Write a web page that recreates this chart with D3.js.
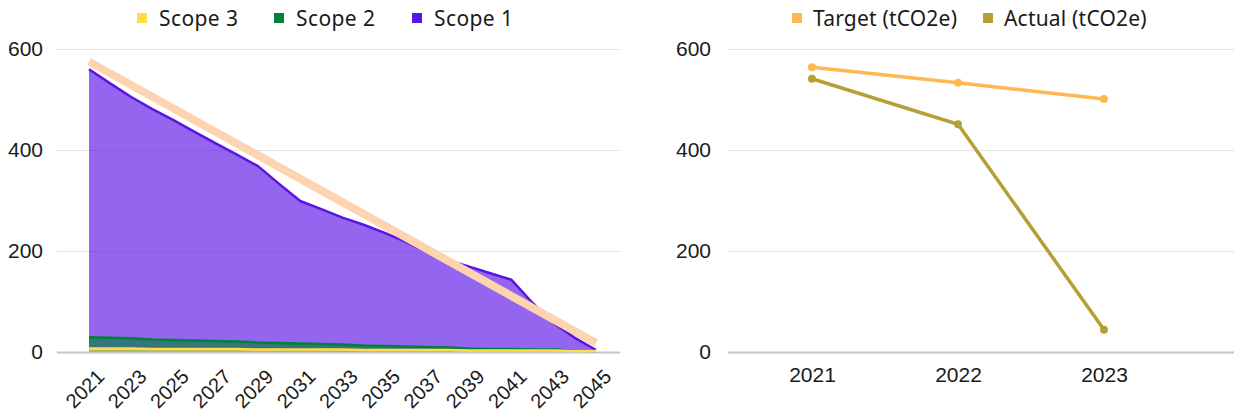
<!DOCTYPE html>
<html>
<head>
<meta charset="utf-8">
<script src="https://cdn.jsdelivr.net/npm/d3@7"></script>
<style>
  html, body { margin: 0; padding: 0; background: #fff; }
  svg { display: block; font-family: "Noto Sans", sans-serif; }
  .tick text { fill: #1a1a1a; }
</style>
</head>
<body>
<div id="chart-container"></div>
<script>
// left chart: emissions by scope (tCO2e)
const years = [2021, 2022, 2023, 2024, 2025, 2026, 2027, 2028, 2029, 2030, 2031, 2032, 2033,
               2034, 2035, 2036, 2037, 2038, 2039, 2040, 2041, 2042, 2043, 2044, 2045];
const scope1 = [531, 504, 478, 456, 435, 413, 391, 370, 349, 315, 282, 267, 251,
                239, 224, 207, 188, 173, 162, 150, 137, 92, 52, 25, 2];
const scope2 = [22, 21, 20, 19, 18, 17, 16, 15, 14, 13, 12, 11, 10,
                9, 8, 7, 6, 5, 4, 3, 3, 2, 2, 1, 0];
const scope3 = [7, 7, 7, 6, 6, 6, 6, 6, 5, 5, 5, 5, 5,
                4, 4, 4, 4, 4, 3, 3, 3, 3, 3, 2, 2];
const pathwayYears = [2021, 2045];
const pathwayValues = [575, 18];
const leftTickYears = [2021, 2023, 2025, 2027, 2029, 2031, 2033, 2035, 2037, 2039, 2041, 2043, 2045];
const yTicks = [0, 200, 400, 600];

// right chart: target vs actual
const rightYears = ["2021", "2022", "2023"];
const targetValues = [564, 533, 501];
const actualValues = [541, 451, 44];

const colors = {
    scope3: "#ffdd4a",
    scope2: "#00803a",
    scope1: "#5a14e6",
    pathway: "#fdd3b0",
    target: "#ffb84f",
    actual: "#b5a036"
};

const W = 1234, H = 416;
const fs = "21px";
const svg = d3.select("#chart-container")
    .append("svg")
    .attr("width", W)
    .attr("height", H);

// ---------- left ----------
const lm = { left: 57, right: 620, top: 49, bottom: 352 };

const x = d3.scaleLinear()
    .domain([2021, 2045])
    .range([89, 596]);

const y = d3.scaleLinear()
    .domain([0, 600])
    .range([lm.bottom, lm.top]);

const left = svg.append("g");

left.append("g")
    .call(d3.axisLeft(y).tickValues(yTicks).tickSize(lm.left - lm.right).tickPadding(14))
    .attr("transform", `translate(${lm.left},0)`)
    .call(g => g.select(".domain").remove())
    .call(g => g.selectAll(".tick line").attr("stroke", d => d === 0 ? "#c6c6c6" : "#e3e3e3").attr("stroke-width", d => d === 0 ? 2 : 1))
    .call(g => g.selectAll(".tick text").style("font-size", fs));

const rows = years.map((yr, i) => ({ year: yr, scope1: scope1[i], scope2: scope2[i], scope3: scope3[i] }));
const stacked = d3.stack().keys(["scope3", "scope2", "scope1"])(rows);

// draw top series first, each filled down to zero
const order = ["scope1", "scope2", "scope3"];
order.forEach(key => {
    const s = stacked.find(d => d.key === key);
    left.append("path")
        .datum(s)
        .attr("fill", colors[key])
        .attr("fill-opacity", 0.65)
        .attr("d", d3.area()
            .x(d => x(d.data.year))
            .y0(y(0))
            .y1(d => y(d[1])));
});
order.forEach(key => {
    const s = stacked.find(d => d.key === key);
    left.append("path")
        .datum(s)
        .attr("fill", "none")
        .attr("stroke", colors[key])
        .attr("stroke-width", 2.5)
        .attr("stroke-linejoin", "round")
        .attr("d", d3.line()
            .x(d => x(d.data.year))
            .y(d => y(d[1])));
});

left.append("path")
    .datum(pathwayYears.map((yr, i) => [yr, pathwayValues[i]]))
    .attr("fill", "none")
    .attr("stroke", colors.pathway)
    .attr("stroke-width", 8)
    .attr("d", d3.line().x(d => x(d[0])).y(d => y(d[1])));

left.append("g")
    .attr("transform", `translate(0,${lm.bottom})`)
    .call(d3.axisBottom(x).tickValues(leftTickYears).tickFormat(d3.format("d")).tickSize(0))
    .call(g => g.select(".domain").remove())
    .call(g => g.selectAll(".tick text")
        .style("font-size", "20px")
        .attr("text-anchor", "end")
        .attr("y", 0)
        .attr("dy", 0)
        .attr("transform", "translate(16,26) rotate(-45)"));

// legend left
const leftLegend = [
    { key: "scope3", label: "Scope 3", x: 137 },
    { key: "scope2", label: "Scope 2", x: 274 },
    { key: "scope1", label: "Scope 1", x: 412 }
];
const ll = left.append("g").selectAll("g").data(leftLegend).join("g")
    .attr("transform", d => `translate(${d.x},13)`);
ll.append("rect").attr("width", 10).attr("height", 10).attr("fill", d => colors[d.key]);
ll.append("text").attr("x", 22).attr("y", 13).style("font-size", fs).style("letter-spacing", "0.4px")
    .attr("fill", "#1a1a1a").text(d => d.label);

// ---------- right ----------
const rm = { left: 728, right: 1234 };

const xr = d3.scalePoint()
    .domain(rightYears)
    .range([812, 1104]);

const right = svg.append("g");

right.append("g")
    .attr("transform", `translate(${rm.left},0)`)
    .call(d3.axisLeft(y).tickValues(yTicks).tickSize(rm.left - rm.right).tickPadding(17))
    .call(g => g.select(".domain").remove())
    .call(g => g.selectAll(".tick line").attr("stroke", d => d === 0 ? "#c6c6c6" : "#e3e3e3").attr("stroke-width", d => d === 0 ? 2 : 1))
    .call(g => g.selectAll(".tick text").style("font-size", fs));

right.append("g")
    .attr("transform", `translate(0,${lm.bottom})`)
    .call(d3.axisBottom(xr).tickSize(0).tickPadding(15))
    .call(g => g.select(".domain").remove())
    .call(g => g.selectAll(".tick text").style("font-size", fs));

const series = [
    { key: "target", values: targetValues },
    { key: "actual", values: actualValues }
];
series.forEach(s => {
    const pts = rightYears.map((yr, i) => [yr, s.values[i]]);
    right.append("path")
        .datum(pts)
        .attr("fill", "none")
        .attr("stroke", colors[s.key])
        .attr("stroke-width", 3.5)
        .attr("d", d3.line().x(d => xr(d[0])).y(d => y(d[1])));
    right.selectAll(null)
        .data(pts)
        .join("circle")
        .attr("cx", d => xr(d[0]))
        .attr("cy", d => y(d[1]))
        .attr("r", 4)
        .attr("fill", colors[s.key]);
});

const rightLegend = [
    { key: "target", label: "Target (tCO2e)", x: 792 },
    { key: "actual", label: "Actual (tCO2e)", x: 983 }
];
const rl = right.append("g").selectAll("g").data(rightLegend).join("g")
    .attr("transform", d => `translate(${d.x},13)`);
rl.append("rect").attr("width", 10).attr("height", 10).attr("fill", d => colors[d.key]);
rl.append("text").attr("x", 21).attr("y", 13).style("font-size", fs).style("letter-spacing", "0.2px")
    .attr("fill", "#1a1a1a").text(d => d.label);
</script>
</body>
</html>
